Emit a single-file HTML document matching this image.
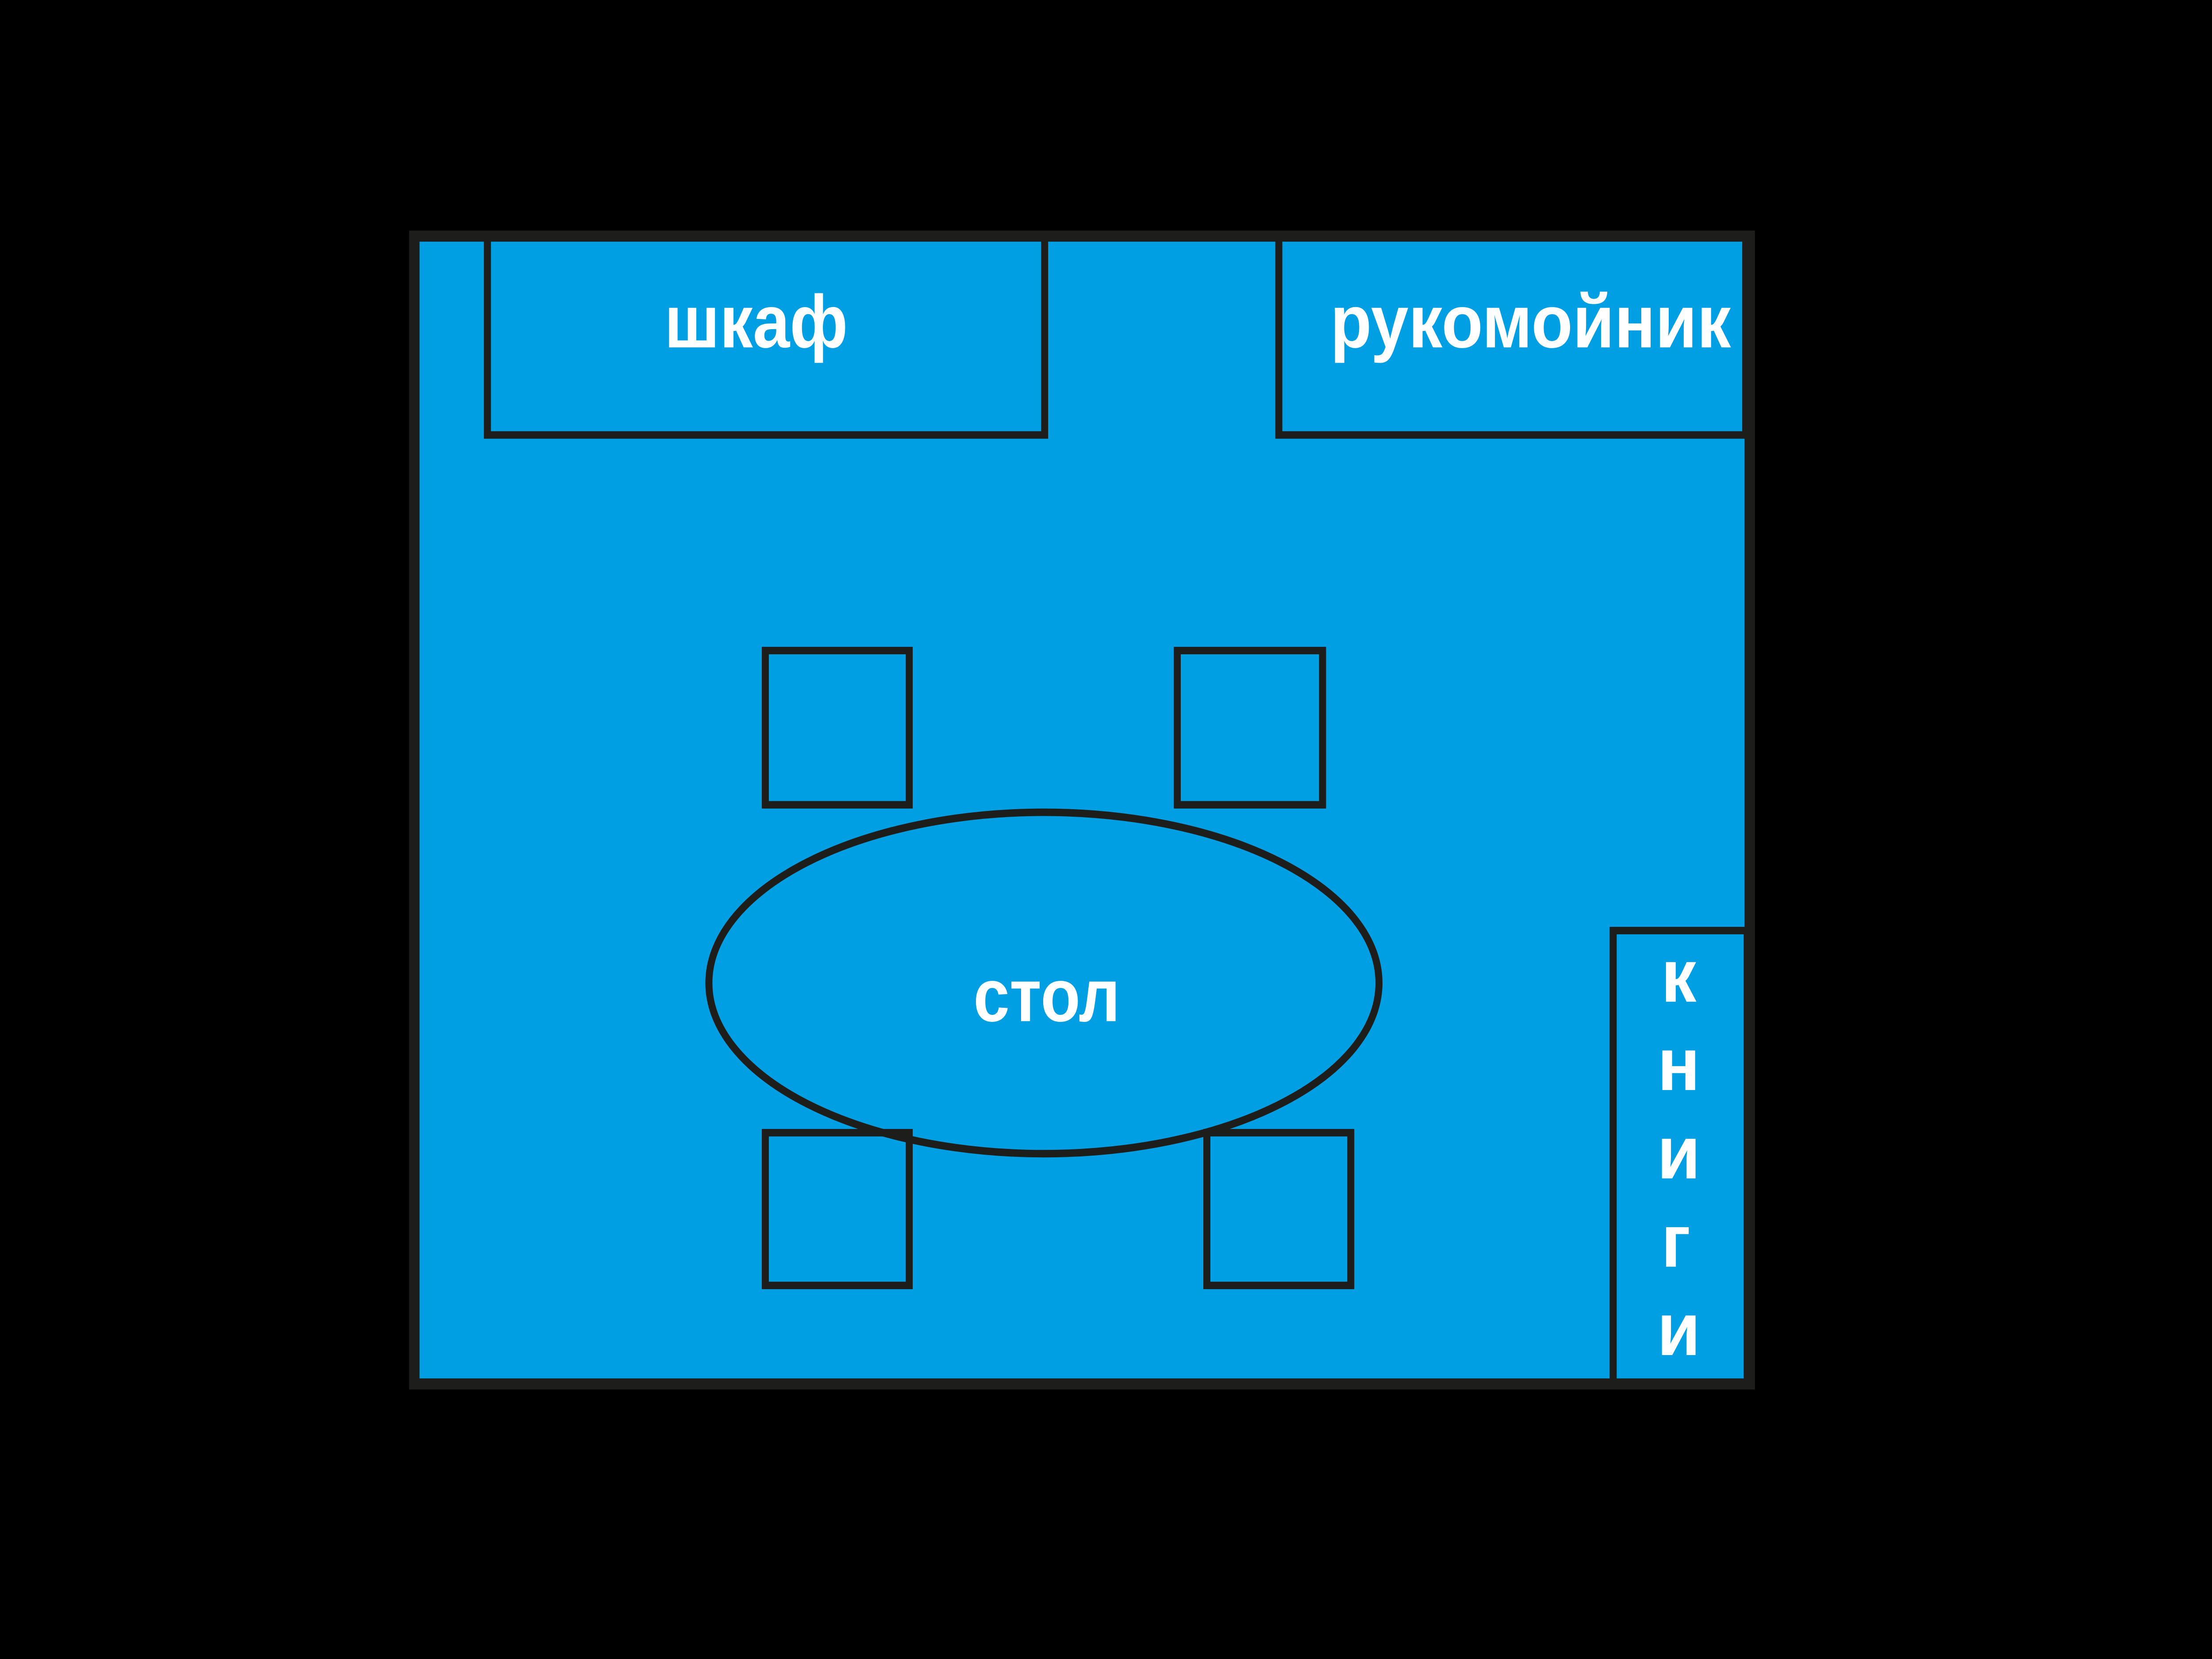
<!DOCTYPE html>
<html><head><meta charset="utf-8"><style>html,body{margin:0;padding:0;background:#000;width:100%;height:100%;overflow:hidden;}svg{display:block;position:fixed;left:0;top:0;width:100vw;height:100vh}</style></head>
<body>
<svg viewBox="0 0 1568 1108" preserveAspectRatio="none" xmlns="http://www.w3.org/2000/svg">
<rect width="1568" height="1108" fill="#000"/>
<rect x="293.7" y="157.7" width="946.6" height="766.6" fill="#009fe3" stroke="#1d1d1b" stroke-width="7.4"/>
<g fill="none" stroke="#1d1d1b" stroke-width="5">
<rect x="345.5" y="157" width="395" height="133.5"/>
<rect x="906.5" y="157" width="331" height="133.5"/>
<rect x="542.5" y="434.5" width="102" height="103"/>
<rect x="834.5" y="434.5" width="103" height="103"/>
<ellipse cx="740" cy="656.5" rx="237.5" ry="114"/>
<rect x="542.5" y="756.5" width="102" height="102"/>
<rect x="855.5" y="756.5" width="102" height="102"/>
<rect x="1143.5" y="621.5" width="95" height="302"/>
</g>
<g fill="#fff" font-family="'Liberation Sans', 'DejaVu Sans', sans-serif" font-weight="bold" font-size="50" text-anchor="middle">
<text x="536" y="232" textLength="130" lengthAdjust="spacingAndGlyphs">шкаф</text>
<text x="1085" y="232" textLength="284" lengthAdjust="spacingAndGlyphs">рукомойник</text>
<text x="742" y="682" textLength="104" lengthAdjust="spacingAndGlyphs">стол</text>
<text x="1190" y="669">к</text>
<text x="1190" y="728">н</text>
<text x="1190" y="787">и</text>
<text x="1188" y="846">г</text>
<text x="1190" y="905">и</text>
</g>
</svg>
</body></html>
